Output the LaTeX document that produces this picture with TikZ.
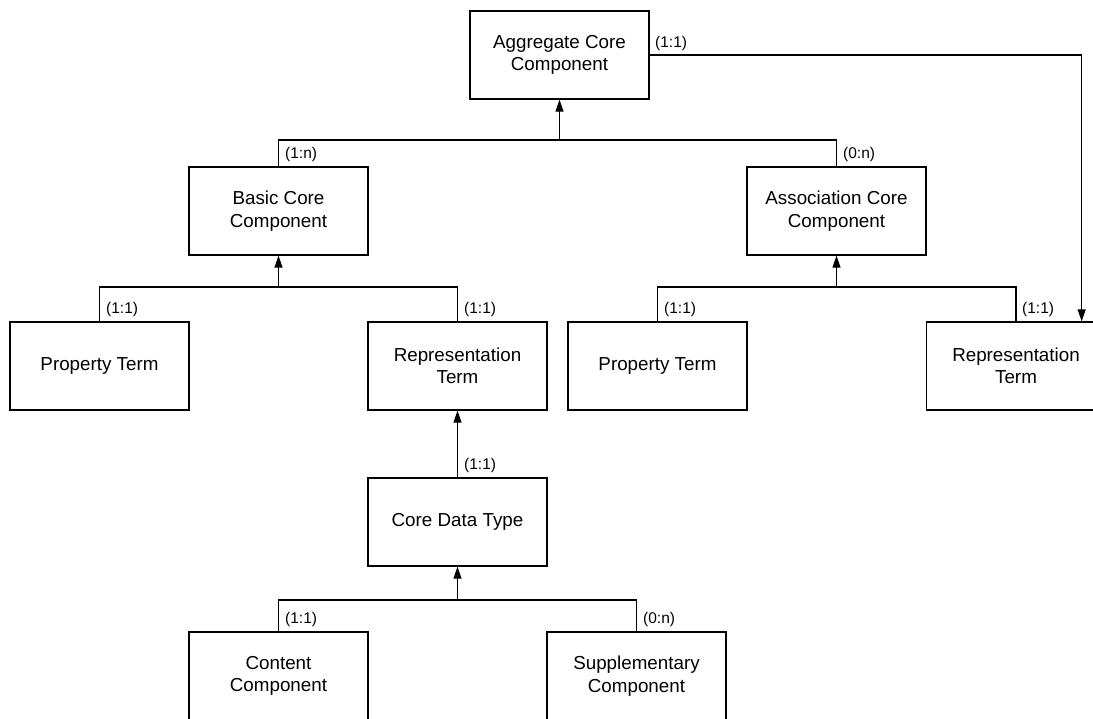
\documentclass[tikz,border=0pt]{standalone}
\usepackage{fontspec}
\setmainfont{Liberation Sans}
\usetikzlibrary{arrows.meta}
\begin{document}
\begin{tikzpicture}[x=1pt,y=-1pt,
  box/.style={draw=black,line width=1.3pt,rectangle,minimum width=179pt,minimum height=88pt,
    align=center,inner sep=0pt,font=\fontsize{18.8}{22.5}\selectfont},
  conn/.style={draw=black,line width=1.1pt},
  arr/.style={conn,-{Triangle[length=12pt,width=8pt]}},
  lbl/.style={anchor=west,inner sep=0pt,font=\fontsize{15.5}{18}\selectfont}]
\useasboundingbox (0,0) rectangle (1093,718);
\clip (0,0) rectangle (1093,718);
\fill[white] (0,0) rectangle (1093,718);
% boxes
\node[box] (agg) at (559.5,55) {Aggregate Core\\Component};
\node[box] (basic) at (278.5,211) {Basic Core\\Component};
\node[box] (assoc) at (836.5,211) {Association Core\\Component};
\node[box] (pt1) at (99.5,366) {Property Term};
\node[box] (rt1) at (457.5,366) {Representation\\Term};
\node[box] (pt2) at (657.5,366) {Property Term};
\node[box] (rt2) at (1016,366) {Representation\\Term};
\node[box] (cdt) at (457.5,522) {Core Data Type};
\node[box] (cont) at (278.5,676) {Content\\Component};
\node[box] (supp) at (636.5,676) {Supplementary\\Component};
% junctions
\coordinate (j1) at (559.5,140);
\coordinate (j2) at (278.5,287);
\coordinate (j3) at (836.5,287);
\coordinate (j4) at (457.5,600);
% connectors
\draw[conn] (basic.north) |- (j1);
\draw[conn] (assoc.north) |- (j1);
\draw[arr] (j1) -- (agg.south);
\draw[conn] (pt1.north) |- (j2);
\draw[conn] (rt1.north) |- (j2);
\draw[arr] (j2) -- (basic.south);
\draw[conn] (pt2.north) |- (j3);
\draw[conn] (rt2.north) |- (j3);
\draw[arr] (j3) -- (assoc.south);
\draw[arr] (cdt.north) -- (rt1.south);
\draw[conn] (cont.north) |- (j4);
\draw[conn] (supp.north) |- (j4);
\draw[arr] (j4) -- (cdt.south);
\draw[arr] (agg.east) -| ([xshift=-24.5pt]rt2.north east);
% labels
\node[lbl] (l0) at (655,43) {(1:1)};
\node[lbl] (l1) at (285,154) {(1:n)};
\node[lbl] (l2) at (843,154) {(0:n)};
\node[lbl] (l3) at (106,309) {(1:1)};
\node[lbl] (l4) at (464,309) {(1:1)};
\node[lbl] (l5) at (664,309) {(1:1)};
\node[lbl] (l6) at (1022,309) {(1:1)};
\node[lbl] (l7) at (464,465) {(1:1)};
\node[lbl] (l8) at (285,619) {(1:1)};
\node[lbl] (l9) at (643,619) {(0:n)};
\end{tikzpicture}
\end{document}
